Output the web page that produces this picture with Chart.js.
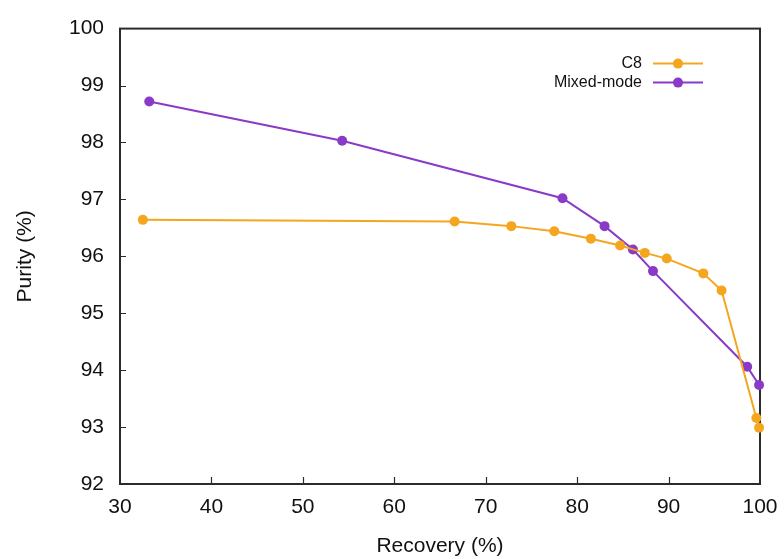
<!DOCTYPE html>
<html>
<head>
<meta charset="utf-8">
<script src="https://cdn.jsdelivr.net/npm/chart.js@4.4.1/dist/chart.umd.min.js"></script>
<style>
  html, body { margin: 0; padding: 0; background: #fff; }
  #wrap { width: 784px; height: 559px; }
</style>
</head>
<body>
<div id="wrap"><canvas id="purityChart" width="784" height="559"></canvas></div>
<script>
var c8Recovery = [32.5, 66.6, 72.8, 77.5, 81.5, 84.7, 87.4, 89.8, 93.8, 95.8, 99.6, 99.9];
var c8Purity = [96.64, 96.61, 96.53, 96.44, 96.31, 96.19, 96.06, 95.96, 95.70, 95.40, 93.16, 92.99];
var mixedRecovery = [33.2, 54.3, 78.4, 83.0, 86.1, 88.3, 98.6, 99.9];
var mixedPurity = [98.72, 98.03, 97.02, 96.53, 96.12, 95.74, 94.06, 93.74];
var seriesNames = ['C8', 'Mixed-mode'];
var xTicks = [30, 40, 50, 60, 70, 80, 90, 100];
var yTicks = [92, 93, 94, 95, 96, 97, 98, 99, 100];

var ORANGE = '#f4a61f';
var PURPLE = '#8a3ac6';
var AXIS = '#2b2b2b';
var FONT = "'Liberation Sans', Arial, sans-serif";

function toPoints(xs, ys) {
  return xs.map(function (x, i) { return { x: x, y: ys[i] }; });
}

// frame, inward ticks and the right-aligned legend
var framePlugin = {
  id: 'frame',
  beforeDatasetsDraw: function (chart) {
    var a = chart.chartArea;
    var ctx = chart.ctx;
    var sx = chart.scales.x, sy = chart.scales.y;
    ctx.save();
    ctx.strokeStyle = AXIS;
    ctx.lineWidth = 2;
    ctx.strokeRect(a.left, a.top, a.right - a.left, a.bottom - a.top);
    ctx.lineWidth = 1.2;
    ctx.beginPath();
    xTicks.slice(1, -1).forEach(function (v) {
      var px = Math.round(sx.getPixelForValue(v)) + 0.5;
      ctx.moveTo(px, a.bottom);
      ctx.lineTo(px, a.bottom - 7);
    });
    yTicks.slice(1, -1).forEach(function (v) {
      var py = Math.round(sy.getPixelForValue(v)) + 0.5;
      ctx.moveTo(a.left, py);
      ctx.lineTo(a.left + 6, py);
    });
    ctx.stroke();
    ctx.restore();
  },
  afterDatasetsDraw: function (chart) {
    var ctx = chart.ctx;
    var a = chart.chartArea;
    ctx.save();
    ctx.font = '16px ' + FONT;
    ctx.textAlign = 'right';
    ctx.textBaseline = 'middle';
    chart.data.datasets.forEach(function (ds, i) {
      var y = a.top + 35 + i * 19;
      var lineStart = a.right - 107;
      ctx.fillStyle = '#111';
      ctx.fillText(ds.label, lineStart - 11, y);
      ctx.strokeStyle = ds.borderColor;
      ctx.lineWidth = 2;
      ctx.beginPath();
      ctx.moveTo(lineStart, y);
      ctx.lineTo(lineStart + 50, y);
      ctx.stroke();
      ctx.fillStyle = ds.backgroundColor;
      ctx.beginPath();
      ctx.arc(lineStart + 25, y, 5, 0, Math.PI * 2);
      ctx.fill();
    });
    ctx.restore();
  },
};

new Chart(document.getElementById('purityChart'), {
  type: 'line',
  data: {
    datasets: [
      {
        label: seriesNames[0],
        data: toPoints(c8Recovery, c8Purity),
        borderColor: ORANGE,
        backgroundColor: ORANGE,
        borderWidth: 2,
        pointRadius: 5,
        pointBorderWidth: 0,
        tension: 0,
        clip: false,
      },
      {
        label: seriesNames[1],
        data: toPoints(mixedRecovery, mixedPurity),
        borderColor: PURPLE,
        backgroundColor: PURPLE,
        borderWidth: 2,
        pointRadius: 5,
        pointBorderWidth: 0,
        tension: 0,
        clip: false,
      },
    ],
  },
  options: {
    responsive: false,
    animation: false,
    layout: { padding: { top: 28, right: 24, left: 0, bottom: 0 } },
    plugins: {
      legend: { display: false },
      tooltip: { enabled: false },
    },
    scales: {
      x: {
        type: 'linear',
        min: 30,
        max: 100,
        afterBuildTicks: function (scale) {
          scale.ticks = xTicks.map(function (v) { return { value: v }; });
        },
        afterFit: function (scale) {
          scale.height = 75;
          scale.paddingRight = 0;
          scale.paddingLeft = 0;
        },
        grid: { display: false, drawTicks: false },
        border: { display: false },
        ticks: { color: '#111', font: { family: FONT, size: 21 }, padding: 11, maxRotation: 0 },
        title: { display: true, text: 'Recovery (%)', color: '#111', font: { family: FONT, size: 21 }, padding: { top: 0, bottom: 0 } },
      },
      y: {
        type: 'linear',
        min: 92,
        max: 100,
        afterBuildTicks: function (scale) {
          scale.ticks = yTicks.map(function (v) { return { value: v }; });
        },
        afterFit: function (scale) { scale.width = 120; },
        grid: { display: false, drawTicks: false },
        border: { display: false },
        ticks: { color: '#111', font: { family: FONT, size: 21 }, padding: 16 },
        title: { display: true, text: 'Purity (%)', color: '#111', font: { family: FONT, size: 21 }, padding: { top: 13, bottom: 0 } },
      },
    },
  },
  plugins: [framePlugin],
});
</script>
</body>
</html>
